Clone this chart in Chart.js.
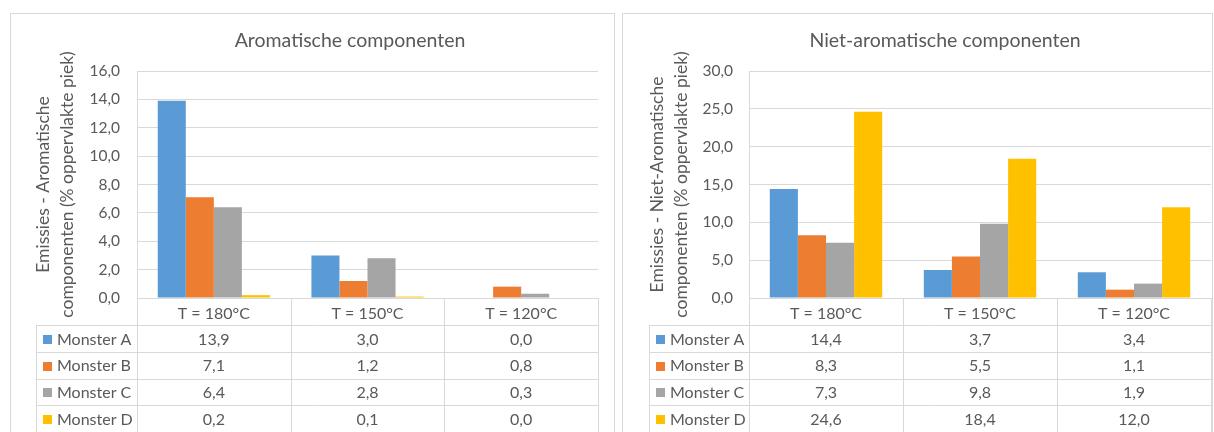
<!DOCTYPE html>
<html>
<head>
<meta charset="utf-8">
<title>Emissies - aromatische en niet-aromatische componenten</title>
<script src="https://cdn.jsdelivr.net/npm/chart.js@4.4.1/dist/chart.umd.min.js"></script>
<style>
  html, body { margin: 0; padding: 0; background: #fff; }
  body { width: 1214px; height: 432px; overflow: hidden; position: relative; font-family: Lato, "Open Sans", sans-serif; }
  .panel { position: absolute; top: 13px; border: 1px solid #d9d9d9; background: #fff; }
  #p1 { left: 10px; width: 603px; height: 440px; }
  #p2 { left: 622px; width: 589px; height: 440px; }
  canvas { display: block; }
</style>
</head>
<body>
<div class="panel" id="p1"><canvas id="c1" width="603" height="440"></canvas></div>
<div class="panel" id="p2"><canvas id="c2" width="589" height="440"></canvas></div>

<script>
// Categories and series
const categories = ['T = 180°C', 'T = 150°C', 'T = 120°C'];
const seriesNames = ['Monster A', 'Monster B', 'Monster C', 'Monster D'];
const seriesColors = ['#5b9bd5', '#ed7d31', '#a5a5a5', '#ffc000'];

// Aromatische componenten (% oppervlakte piek)
const aromMonsterA = [13.9, 3.0, 0.0];
const aromMonsterB = [7.1, 1.2, 0.8];
const aromMonsterC = [6.4, 2.8, 0.3];
const aromMonsterD = [0.2, 0.1, 0.0];

// Niet-aromatische componenten (% oppervlakte piek)
const nietMonsterA = [14.4, 3.7, 3.4];
const nietMonsterB = [8.3, 5.5, 1.1];
const nietMonsterC = [7.3, 9.8, 1.9];
const nietMonsterD = [24.6, 18.4, 12.0];

// Axis settings
const aromTitle = 'Aromatische componenten';
const aromAxisTitle = ['Emissies - Aromatische', 'componenten (% oppervlakte piek)'];
const aromMax = 16, aromStep = 2;
const nietTitle = 'Niet-aromatische componenten';
const nietAxisTitle = ['Emissies - Niet-Aromatische', 'componenten (% oppervlakte piek)'];
const nietMax = 30, nietStep = 5;

const TEXT = '#595959';
const GRID = '#d9d9d9';
const FONT = 'Lato';

const fmt = v => v.toFixed(1).replace('.', ',');

// Draws the chart title and the data table under the category axis
const tablePlugin = {
  id: 'dataTable',
  afterDraw(chart, args, opts) {
    const ctx = chart.ctx;
    const ca = chart.chartArea;
    const xs = chart.scales.x;
    const n = chart.data.labels.length;
    const step = xs.getPixelForValue(1) - xs.getPixelForValue(0);
    const edges = [];
    for (let i = 0; i <= n; i++) edges.push(Math.round(xs.getPixelForValue(0) - step / 2 + i * step) + 0.5);
    const catRow = opts.catRowHeight;
    const rowH = opts.rowHeight;
    const tTop = ca.bottom + catRow;
    const rows = chart.data.datasets.length;
    const tBottom = tTop + rows * rowH;
    const tLeft = opts.tableLeft + 0.5;

    ctx.save();
    // title
    ctx.fillStyle = TEXT;
    ctx.font = opts.titleFont;
    ctx.textAlign = 'center';
    ctx.textBaseline = 'middle';
    ctx.fillText(opts.title, opts.titleX, opts.titleY);

    // table grid
    ctx.strokeStyle = GRID;
    ctx.lineWidth = 1;
    ctx.beginPath();
    edges.forEach(x => { ctx.moveTo(x, ca.bottom); ctx.lineTo(x, tBottom); });
    for (let r = 0; r <= rows; r++) {
      const y = Math.round(tTop + r * rowH) + 0.5;
      ctx.moveTo(tLeft, y); ctx.lineTo(edges[n], y);
    }
    ctx.moveTo(tLeft, tTop); ctx.lineTo(tLeft, tBottom);
    ctx.stroke();

    // legend keys and values
    ctx.font = opts.cellFont;
    chart.data.datasets.forEach((ds, r) => {
      const yc = tTop + r * rowH + rowH / 2 + 1;
      ctx.fillStyle = ds.backgroundColor;
      ctx.fillRect(opts.tableLeft + 7, Math.round(yc - 4.5), 9, 9);
      ctx.fillStyle = TEXT;
      ctx.textAlign = 'left';
      ctx.fillText(ds.label, opts.tableLeft + 21, yc);
      ctx.textAlign = 'center';
      ds.data.forEach((v, i) => {
        ctx.fillText(fmt(v), xs.getPixelForValue(i), yc);
      });
    });
    ctx.restore();
  }
};

function makeChart(id, seriesData, cfg) {
  const datasets = seriesNames.map((name, i) => ({
    label: name,
    data: seriesData[i],
    backgroundColor: seriesColors[i],
    borderWidth: 0,
    categoryPercentage: 0.73,
    barPercentage: 1.0
  }));
  return new Chart(document.getElementById(id), {
    type: 'bar',
    data: { labels: categories, datasets },
    plugins: [tablePlugin],
    options: {
      responsive: false,
      animation: false,
      layout: { padding: { top: 57, right: cfg.padRight, bottom: 129, left: 0 } },
      plugins: {
        legend: { display: false },
        title: { display: false },
        tooltip: { enabled: false },
        dataTable: {
          title: cfg.title,
          titleX: cfg.titleX,
          titleY: 27,
          titleFont: '19.5px ' + FONT,
          cellFont: '16px ' + FONT,
          tableLeft: cfg.tableLeft,
          catRowHeight: 27,
          rowHeight: 26.75
        }
      },
      scales: {
        x: {
          grid: { display: false, drawTicks: false },
          border: { display: true, color: GRID },
          ticks: { color: TEXT, font: { family: FONT, size: 16 }, padding: 6, maxRotation: 0 },
          afterFit(scale) { scale.height = 27; }
        },
        y: {
          min: 0,
          max: cfg.max,
          ticks: {
            stepSize: cfg.step,
            color: TEXT,
            font: { family: FONT, size: 15.5 },
            padding: cfg.tickPad,
            callback: v => fmt(v)
          },
          grid: { color: GRID, drawTicks: false },
          border: { display: true, color: GRID },
          title: {
            display: true,
            text: cfg.axisTitle,
            color: TEXT,
            font: { family: FONT, size: 17.5, lineHeight: '24px' },
            padding: { top: cfg.titlePad, bottom: 0 }
          },
          afterFit(scale) { scale.width = 126; }
        }
      }
    }
  });
}

makeChart('c1', [aromMonsterA, aromMonsterB, aromMonsterC, aromMonsterD], {
  title: aromTitle, titleX: 339, axisTitle: aromAxisTitle,
  max: aromMax, step: aromStep, padRight: 16, tableLeft: 25, tickPad: 17, titlePad: 20
});
makeChart('c2', [nietMonsterA, nietMonsterB, nietMonsterC, nietMonsterD], {
  title: nietTitle, titleX: 322, axisTitle: nietAxisTitle,
  max: nietMax, step: nietStep, padRight: 1, tableLeft: 26, tickPad: 16, titlePad: 22
});
</script>
</body>
</html>
